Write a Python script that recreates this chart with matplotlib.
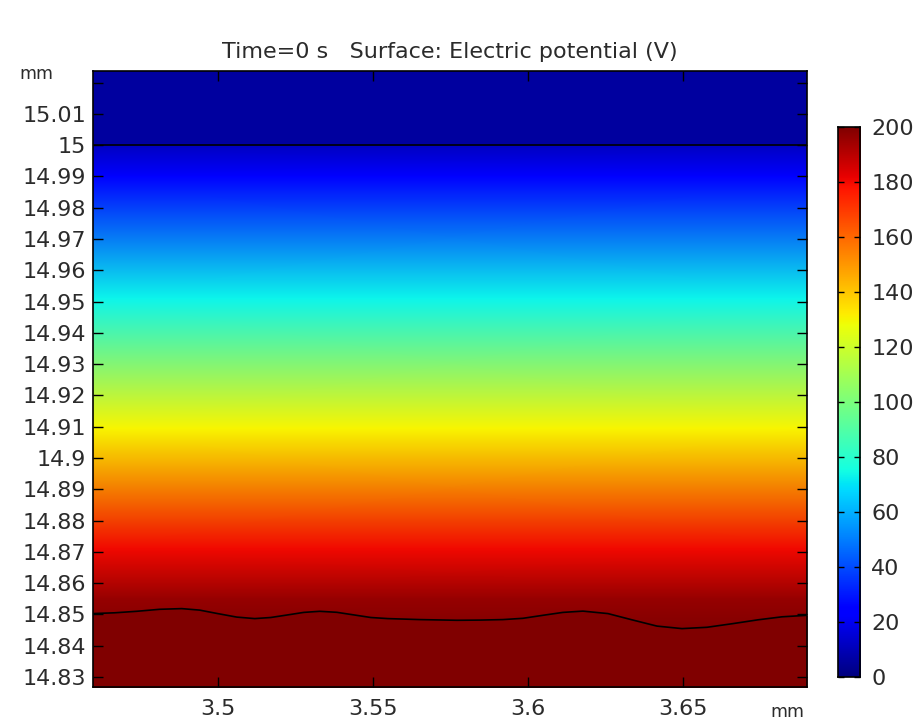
import numpy as np
import matplotlib
matplotlib.use("Agg")
import matplotlib.pyplot as plt
import matplotlib.ticker as ticker

# view window (mm)
x_min, x_max = 3.4598, 3.69
y_min, y_max = 14.8268, 15.0237

# potential profile (y in mm, V)
prof_y = [15.0237, 15.0005, 14.9995, 14.99, 14.951, 14.9095, 14.871, 14.855, 14.845, 14.8268]
prof_v = [6, 6, 12, 22, 73, 130, 180, 196, 200, 200]

# wavy lower boundary
wave_x = [3.45968, 3.46677, 3.47387, 3.48129, 3.48839, 3.49419, 3.5, 3.50613, 3.51194,
          3.51710, 3.52258, 3.52774, 3.53290, 3.53839, 3.54387, 3.54935, 3.55484, 3.56516,
          3.57710, 3.58452, 3.59194, 3.59839, 3.60484, 3.61129, 3.61774, 3.62581, 3.63355,
          3.64161, 3.64968, 3.65774, 3.66613, 3.67419, 3.68194, 3.69]
wave_y = [14.85026, 14.85051, 14.85099, 14.85163, 14.85185, 14.85137, 14.85026, 14.84914,
          14.84866, 14.84901, 14.84984, 14.85064, 14.85099, 14.85067, 14.84984, 14.84901,
          14.84866, 14.84834, 14.84812, 14.84818, 14.84834, 14.84875, 14.84971, 14.85064,
          14.85105, 14.85026, 14.84827, 14.84626, 14.84546, 14.84588, 14.84706, 14.84827,
          14.84923, 14.84971]

interface_y = 15.0

xticks = [3.5, 3.55, 3.6, 3.65]
yticks = [14.83, 14.84, 14.85, 14.86, 14.87, 14.88, 14.89, 14.9, 14.91, 14.92,
          14.93, 14.94, 14.95, 14.96, 14.97, 14.98, 14.99, 15.0, 15.01, 15.02]
cbar_ticks = [0, 20, 40, 60, 80, 100, 120, 140, 160, 180, 200]

txt = '#2b2b2b'
fs = 16
cmap = plt.get_cmap('jet')

fig = plt.figure(figsize=(9.19, 7.22), dpi=100)
ax = fig.add_axes([0.1012, 0.0485, 0.777, 0.8532])

X, Y = np.meshgrid([x_min, x_max], prof_y)
V = np.array([[v, v] for v in prof_v])
ax.pcolormesh(X, Y, V, cmap=cmap, vmin=0, vmax=200, shading='gouraud', rasterized=True)
ax.fill_between(wave_x, wave_y, y_min - 0.01, color=cmap(1.0), lw=0)
ax.plot(wave_x, wave_y, color='black', lw=1.2)
ax.axhline(interface_y, color='black', lw=1.2)

ax.set_xlim(x_min, x_max)
ax.set_ylim(y_min, y_max)

ax.xaxis.set_major_locator(ticker.FixedLocator(xticks))
ax.yaxis.set_major_locator(ticker.FixedLocator(yticks))
ax.xaxis.set_major_formatter(ticker.FuncFormatter(lambda v, p: '%g' % round(v, 3)))
ax.yaxis.set_major_formatter(ticker.FuncFormatter(
    lambda v, p: '' if v > 15.015 else '%g' % round(v, 3)))
ax.tick_params(direction='in', length=7, width=1, top=True, right=True,
               labelsize=fs, labelcolor=txt, color='black')
ax.tick_params(axis='x', pad=9)
ax.tick_params(axis='y', pad=5)
for s in ax.spines.values():
    s.set_linewidth(1.2)

ax.set_title('Time=0 s   Surface: Electric potential (V)', fontsize=fs, color=txt, pad=9)
fig.text(0.04, 0.897, 'mm', fontsize=12.5, color=txt, ha='center', va='center')
fig.text(0.857, 0.014, 'mm', fontsize=12.5, color=txt, ha='center', va='center')

# colorbar
cax = fig.add_axes([0.912, 0.0623, 0.024, 0.762])
grad = np.linspace(0, 200, 256).reshape(-1, 1)
cax.imshow(grad, aspect='auto', cmap=cmap, origin='lower', extent=[0, 1, 0, 200])
cax.set_xlim(0, 1)
cax.set_ylim(0, 200)
cax.set_xticks([])
cax.yaxis.set_major_locator(ticker.FixedLocator(cbar_ticks))
cax.yaxis.tick_right()
cax.tick_params(axis='y', direction='in', length=4, width=1, left=True, right=True,
                labelleft=False, labelright=True, labelsize=fs, labelcolor=txt, pad=8)
for s in cax.spines.values():
    s.set_linewidth(1.2)

fig.savefig('out.png', dpi=100)
